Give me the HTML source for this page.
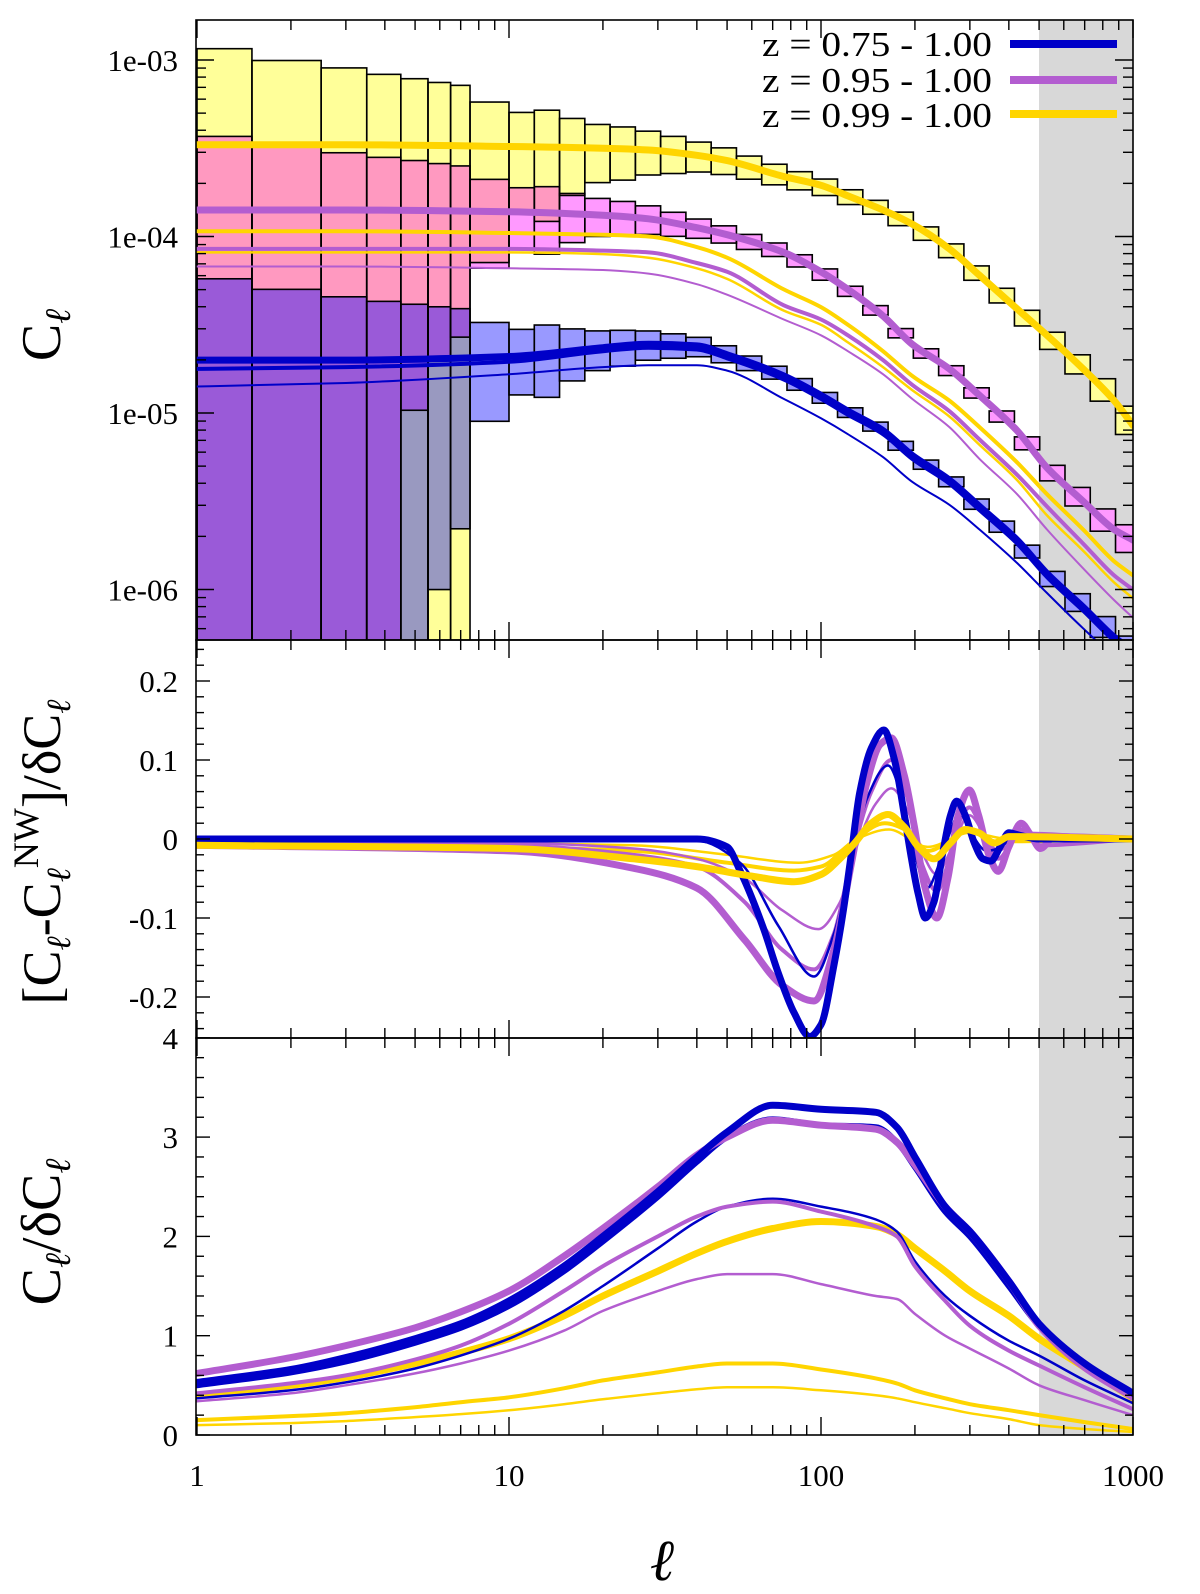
<!DOCTYPE html>
<html><head><meta charset="utf-8"><style>
html,body{margin:0;padding:0;background:#fff;overflow:hidden;}
svg{display:block;font-family:"Liberation Serif",serif;}
</style></head><body>
<svg id="chart" width="1200" height="1594" viewBox="0 0 1200 1594" xmlns="http://www.w3.org/2000/svg">
<defs>
<clipPath id="clipTop"><rect x="196" y="20" width="937" height="620"/></clipPath>
<clipPath id="clipMid"><rect x="196" y="640" width="937" height="398"/></clipPath>
<clipPath id="clipBot"><rect x="196" y="1038" width="937" height="397"/></clipPath>
</defs>
<rect x="1039" y="20" width="94" height="1415" fill="#d8d8d8"/>
<g id="gBoxes" clip-path="url(#clipTop)"></g>
<g id="gTop" clip-path="url(#clipTop)"></g>
<g id="gMid" clip-path="url(#clipMid)"></g>
<g id="gBot" clip-path="url(#clipBot)"></g>
<g id="gAxes"></g>
<g id="legend">
 <text x="762" y="56" font-size="35" textLength="230" lengthAdjust="spacingAndGlyphs">z = 0.75 - 1.00</text>
 <line x1="1010" y1="44" x2="1117" y2="44" stroke="#0000c8" stroke-width="8"/>
 <text x="762" y="92" font-size="35" textLength="230" lengthAdjust="spacingAndGlyphs">z = 0.95 - 1.00</text>
 <line x1="1010" y1="80" x2="1117" y2="80" stroke="#b35dd0" stroke-width="8"/>
 <text x="762" y="127" font-size="35" textLength="230" lengthAdjust="spacingAndGlyphs">z = 0.99 - 1.00</text>
 <line x1="1010" y1="114" x2="1117" y2="114" stroke="#ffd500" stroke-width="8"/>
</g>
<text x="0" y="0" font-size="56" transform="translate(60,335) rotate(-90)" text-anchor="middle">C<tspan font-size="36" font-style="italic" dy="10">ℓ</tspan></text>
<text x="0" y="0" font-size="54" transform="translate(60,852) rotate(-90)" text-anchor="middle">[C<tspan font-size="34" font-style="italic" dy="10">ℓ</tspan><tspan dy="-10">-C</tspan><tspan font-size="34" font-style="italic" dy="10">ℓ</tspan><tspan font-size="36" dy="-32">NW</tspan><tspan dy="22">]/δC</tspan><tspan font-size="34" font-style="italic" dy="10">ℓ</tspan></text>
<text x="0" y="0" font-size="56" transform="translate(60,1232) rotate(-90)" text-anchor="middle">C<tspan font-size="36" font-style="italic" dy="10">ℓ</tspan><tspan dy="-10">/δC</tspan><tspan font-size="36" font-style="italic" dy="10">ℓ</tspan></text>
<text x="662" y="1580" font-size="58" font-style="italic" text-anchor="middle">ℓ</text>
</svg>
<script>
// ---------- data: top panel (log10 C_ell) ----------
const ellTop = [1,3,10,20,28,40,50,76,100,122,158,196,258,322,425,530,692,870,1000];
const yellowThickTop = [-3.48,-3.48,-3.49,-3.50,-3.51,-3.54,-3.57,-3.66,-3.71,-3.77,-3.85,-3.93,-4.07,-4.22,-4.41,-4.56,-4.75,-4.93,-5.07];
const purpleThickTop = [-3.85,-3.85,-3.86,-3.88,-3.90,-3.95,-3.99,-4.09,-4.20,-4.30,-4.45,-4.61,-4.75,-4.90,-5.10,-5.31,-5.50,-5.66,-5.72];
const yellowMedTop = [-3.97,-3.97,-3.98,-3.99,-4.00,-4.06,-4.12,-4.30,-4.40,-4.50,-4.65,-4.79,-4.93,-5.08,-5.28,-5.46,-5.66,-5.84,-5.92];
const purpleMedTop = [-4.07,-4.07,-4.07,-4.08,-4.09,-4.15,-4.20,-4.39,-4.47,-4.56,-4.70,-4.84,-4.99,-5.15,-5.35,-5.53,-5.74,-5.92,-6.00];
const yellowThinTop = [-4.09,-4.09,-4.09,-4.10,-4.12,-4.18,-4.24,-4.42,-4.50,-4.60,-4.74,-4.87,-5.02,-5.18,-5.38,-5.58,-5.78,-5.96,-6.05];
const purpleThinTop = [-4.17,-4.17,-4.18,-4.19,-4.21,-4.27,-4.33,-4.47,-4.56,-4.65,-4.78,-4.92,-5.08,-5.26,-5.46,-5.66,-5.88,-6.06,-6.16];
const blueThickTop = [-4.70,-4.70,-4.68,-4.63,-4.61,-4.62,-4.67,-4.79,-4.90,-4.99,-5.10,-5.24,-5.38,-5.53,-5.72,-5.91,-6.10,-6.27,-6.35];
const blueMedTop = [-4.75,-4.74,-4.71,-4.65,-4.63,-4.64,-4.69,-4.81,-4.92,-5.01,-5.12,-5.26,-5.40,-5.55,-5.74,-5.93,-6.12,-6.29,-6.37];
const blueThinTop = [-4.85,-4.83,-4.78,-4.74,-4.73,-4.73,-4.76,-4.92,-5.03,-5.12,-5.25,-5.39,-5.52,-5.66,-5.85,-6.02,-6.22,-6.38,-6.46];

// ---------- data: bottom panel (C/dC) ----------
const ellBot = [1,2,3,5,7,10,15,20,30,40,50,70,100,150,175,200,250,300,400,500,700,1000];
const blueThickBot = [0.53,0.66,0.78,0.97,1.12,1.35,1.70,2.00,2.45,2.80,3.05,3.32,3.28,3.25,3.10,2.80,2.30,2.05,1.55,1.12,0.72,0.42];
const blueMedBot = [0.50,0.63,0.74,0.93,1.08,1.30,1.65,1.95,2.40,2.75,3.00,3.18,3.12,3.10,2.95,2.70,2.25,2.00,1.50,1.10,0.70,0.40];
const purpleThickBot = [0.62,0.78,0.90,1.08,1.24,1.45,1.80,2.08,2.50,2.82,3.00,3.17,3.12,3.08,2.95,2.72,2.30,2.05,1.55,1.10,0.68,0.38];
const blueThinBot = [0.37,0.45,0.53,0.67,0.80,0.97,1.25,1.50,1.88,2.15,2.30,2.38,2.30,2.17,2.05,1.75,1.40,1.20,0.95,0.80,0.55,0.32];
const purpleMedBot = [0.42,0.52,0.60,0.76,0.90,1.12,1.45,1.70,2.00,2.20,2.30,2.35,2.25,2.10,2.00,1.70,1.35,1.10,0.85,0.70,0.48,0.26];
const purpleThinBot = [0.34,0.42,0.50,0.62,0.72,0.85,1.05,1.25,1.45,1.57,1.62,1.62,1.52,1.40,1.37,1.22,1.00,0.87,0.67,0.50,0.35,0.20];
const yellowThickBot = [0.40,0.50,0.58,0.72,0.83,0.97,1.20,1.40,1.65,1.83,1.95,2.08,2.15,2.10,2.02,1.88,1.65,1.45,1.20,0.97,0.68,0.37];
const yellowMedBot = [0.15,0.19,0.22,0.28,0.33,0.38,0.47,0.55,0.63,0.69,0.72,0.72,0.66,0.57,0.52,0.45,0.37,0.31,0.25,0.20,0.13,0.06];
const yellowThinBot = [0.10,0.12,0.14,0.18,0.21,0.25,0.31,0.36,0.42,0.46,0.48,0.48,0.45,0.40,0.37,0.33,0.27,0.22,0.16,0.10,0.06,0.03];

// ---------- data: middle panel (BAO residual) ----------
const ellBlueThickMid = [1,40,50,55,65,73,82,92,100,110,118,125,133,145,159,172,185,195,205,216,230,245,260,272,290,310,330,350,375,400,430,500,1000];
const blueThickMid = [0,0,-0.01,-0.04,-0.11,-0.17,-0.22,-0.25,-0.235,-0.16,-0.09,-0.02,0.058,0.115,0.138,0.10,0.03,-0.025,-0.07,-0.10,-0.08,-0.02,0.03,0.048,0.03,-0.005,-0.025,-0.028,-0.01,0.008,0.005,0,0];
const ellPurpleThickMid = [1,10,25,40,57,75,95,110,126,140,155,168,185,199,215,235,255,275,299,320,345,370,400,438,470,505,560,1000];
const purpleThickMid = [-0.008,-0.015,-0.037,-0.062,-0.128,-0.185,-0.205,-0.14,-0.025,0.07,0.12,0.128,0.08,0.017,-0.06,-0.10,-0.05,0.03,0.062,0.03,-0.02,-0.041,-0.01,0.02,0.005,-0.012,0.003,0];
const ellBlueThinMid = [1,40,55,73,95,110,125,140,164,185,200,219,240,260,278,300,340,370,420,1000];
const blueThinMid = [0,-0.002,-0.03,-0.11,-0.174,-0.12,-0.03,0.05,0.093,0.04,-0.02,-0.062,-0.03,0.01,0.033,0.01,-0.015,-0.012,0.003,0];
const ellPurpleMedMid = [1,10,25,40,57,75,95,110,126,145,168,190,210,235,260,280,299,330,370,438,505,1000];
const purpleMedMid = [-0.005,-0.008,-0.02,-0.035,-0.08,-0.14,-0.165,-0.12,-0.02,0.06,0.10,0.05,-0.03,-0.066,-0.02,0.025,0.04,0.01,-0.025,0.012,-0.008,0];
const ellPurpleThinMid = [1,10,25,40,57,75,98,115,130,150,168,190,210,235,260,299,340,370,440,1000];
const purpleThinMid = [-0.003,-0.005,-0.012,-0.025,-0.05,-0.09,-0.114,-0.08,-0.01,0.045,0.064,0.035,-0.015,-0.045,-0.015,0.03,0.0,-0.015,0.008,0];
const ellYellowThickMid = [1,10,25,40,60,82,100,115,129,145,164,185,205,230,260,290,320,360,400,1000];
const yellowThickMid = [-0.008,-0.012,-0.025,-0.035,-0.047,-0.054,-0.045,-0.025,-0.004,0.02,0.031,0.015,-0.01,-0.025,-0.005,0.012,0.008,-0.005,0.003,0];
const ellYellowMedMid = [1,25,50,82,100,125,160,190,220,260,300,360,1000];
const yellowMedMid = [-0.004,-0.015,-0.03,-0.04,-0.035,-0.005,0.02,0.01,-0.015,-0.002,0.012,-0.003,0];
const ellYellowThinMid = [1,25,50,85,110,130,165,220,300,400,1000];
const yellowThinMid = [-0.002,-0.008,-0.02,-0.03,-0.02,0,0.012,-0.01,0.008,0,0];

// ---------- scales ----------
const X = l => 197 + 312*Math.log10(l);
const YtL = L => 60 + 176.5*(-3 - L);
const Ym = v => 839 - 790*v;
const Yb = v => 1435 - 99.3*v;
const NS = 'http://www.w3.org/2000/svg';
const COL = {blue:'#0000c8', purple:'#b35dd0', yellow:'#ffd500'};

function mk(tag, attrs, parent){
  const el = document.createElementNS(NS, tag);
  for (const k in attrs) el.setAttribute(k, attrs[k]);
  parent.appendChild(el);
  return el;
}
// monotone cubic Hermite (Fritsch-Carlson) in pixel space, x increasing
function smoothPath(pts){
  const n = pts.length;
  const dx=[], s=[];
  for (let i=0;i<n-1;i++){ dx[i]=pts[i+1][0]-pts[i][0]; s[i]=(pts[i+1][1]-pts[i][1])/dx[i]; }
  const m=[];
  m[0]=s[0]; m[n-1]=s[n-2];
  for (let i=1;i<n-1;i++){
    if (s[i-1]*s[i]<=0) m[i]=0;
    else { const w1=2*dx[i]+dx[i-1], w2=dx[i]+2*dx[i-1]; m[i]=(w1+w2)/(w1/s[i-1]+w2/s[i]); }
  }
  let d='M'+pts[0][0].toFixed(1)+','+pts[0][1].toFixed(1);
  for (let i=0;i<n-1;i++){
    const h=dx[i]/3;
    d+=' C'+(pts[i][0]+h).toFixed(1)+','+(pts[i][1]+m[i]*h).toFixed(1)+' '+(pts[i+1][0]-h).toFixed(1)+','+(pts[i+1][1]-m[i+1]*h).toFixed(1)+' '+pts[i+1][0].toFixed(1)+','+pts[i+1][1].toFixed(1);
  }
  return d;
}
function interp(ells, vals, l){
  const t = Math.log10(l);
  if (l<=ells[0]) return vals[0];
  if (l>=ells[ells.length-1]) return vals[vals.length-1];
  for (let i=0;i<ells.length-1;i++){
    const a=Math.log10(ells[i]), b=Math.log10(ells[i+1]);
    if (t>=a && t<=b) return vals[i]+(vals[i+1]-vals[i])*(t-a)/(b-a);
  }
  return vals[vals.length-1];
}
function curve(g, ells, vals, yf, color, w, name){
  const pts = ells.map((l,i)=>[X(l), yf(vals[i])]);
  const p = mk('path', {d:smoothPath(pts), fill:'none', stroke:color, 'stroke-width':w, 'stroke-linejoin':'round', 'stroke-linecap':'round'}, g);
  
  
}

// ---------- boxes ----------
const gB = document.getElementById('gBoxes');
const edges = [1,1.5,2.5,3.5,4.5,5.5,6.5,7.5,10];
for (let k=1;k<=25;k++) edges.push(10*Math.pow(10,0.081*k));
const boxSets = [
  {key:'Y', top:yellowThickTop, snr:yellowThickBot, name:'yellow'},
  {key:'M', top:purpleThickTop, snr:purpleThickBot, name:'magenta'},
  {key:'B', top:blueThickTop, snr:blueThickBot, name:'blue'}
];
const fillFor = s => {
  const y=s.includes('Y'), m=s.includes('M'), b=s.includes('B');
  if (b && m) return '#9a5ad8';
  if (b && y) return '#9999c0';
  if (b) return '#9999ff';
  if (y && m) return '#ff99c0';
  if (m) return '#ff99ff';
  if (y) return '#ffff99';
  return null;
};
const outlines = [];
for (let i=0;i<edges.length-1;i++){
  const lo=edges[i], hi=edges[i+1], lc=Math.sqrt(lo*hi);
  const ivs = [];
  boxSets.forEach(s=>{
    const C = Math.pow(10, interp(ellTop, s.top, lc));
    let ss=0;
    for (let n=Math.ceil(lo); n<hi; n++){ const r=interp(ellBot, s.snr, Math.min(n,1000)); ss+=r*r; }
    const S = Math.sqrt(Math.max(ss, 1e-6));
    const up = C*(1+1/S), dn = C*(1-1/S);
    const y0 = Math.max(YtL(Math.log10(up)), 15);
    const y1 = dn>0 ? Math.min(YtL(Math.log10(dn)), 645) : 645;
    ivs.push({key:s.key, y0, y1, name:s.name});
  });
  const bnd = [...new Set(ivs.flatMap(v=>[v.y0,v.y1]))].sort((a,b)=>a-b);
  for (let j=0;j<bnd.length-1;j++){
    const a=bnd[j], b=bnd[j+1], mid=(a+b)/2;
    const keys = ivs.filter(v=>mid>=v.y0 && mid<=v.y1).map(v=>v.key).join('');
    const f = fillFor(keys);
    if (!f) continue;
    const r = mk('rect', {x:X(lo), y:a, width:X(hi)-X(lo), height:b-a, fill:f}, gB);
    
    
  }
  ivs.forEach(v=>outlines.push({x:X(lo), w:X(hi)-X(lo), y0:v.y0, y1:v.y1, name:v.name}));
}
outlines.forEach(o=>{
  const r = mk('rect', {x:o.x, y:o.y0, width:o.w, height:o.y1-o.y0, fill:'none', stroke:'#000', 'stroke-width':1.6}, gB);
  
  
});

// ---------- curves ----------
const gT = document.getElementById('gTop');
curve(gT, ellTop, purpleThinTop, YtL, COL.purple, 2, 'top-purple-thin');
curve(gT, ellTop, yellowThinTop, YtL, COL.yellow, 2.5, 'top-yellow-thin');
curve(gT, ellTop, purpleMedTop, YtL, COL.purple, 4, 'top-purple-medium');
curve(gT, ellTop, yellowMedTop, YtL, COL.yellow, 4, 'top-yellow-medium');
curve(gT, ellTop, blueThinTop, YtL, COL.blue, 2, 'top-blue-thin');
curve(gT, ellTop, blueMedTop, YtL, COL.blue, 4, 'top-blue-medium');
curve(gT, ellTop, purpleThickTop, YtL, COL.purple, 7, 'top-purple-thick');
curve(gT, ellTop, blueThickTop, YtL, COL.blue, 7, 'top-blue-thick');
curve(gT, ellTop, yellowThickTop, YtL, COL.yellow, 7, 'top-yellow-thick');

const gM = document.getElementById('gMid');
curve(gM, ellYellowThinMid, yellowThinMid, Ym, COL.yellow, 2.5, 'mid-yellow-thin');
curve(gM, ellYellowMedMid, yellowMedMid, Ym, COL.yellow, 4, 'mid-yellow-medium');
curve(gM, ellPurpleThinMid, purpleThinMid, Ym, COL.purple, 2.5, 'mid-purple-thin');
curve(gM, ellPurpleMedMid, purpleMedMid, Ym, COL.purple, 4, 'mid-purple-medium');
curve(gM, ellBlueThinMid, blueThinMid, Ym, COL.blue, 2.5, 'mid-blue-thin');
curve(gM, ellPurpleThickMid, purpleThickMid, Ym, COL.purple, 7, 'mid-purple-thick');
curve(gM, ellBlueThickMid, blueThickMid, Ym, COL.blue, 7, 'mid-blue-thick');
curve(gM, ellYellowThickMid, yellowThickMid, Ym, COL.yellow, 7, 'mid-yellow-thick');

const gBt = document.getElementById('gBot');
curve(gBt, ellBot, yellowThinBot, Yb, COL.yellow, 2.5, 'bot-yellow-thin');
curve(gBt, ellBot, yellowMedBot, Yb, COL.yellow, 4, 'bot-yellow-medium');
curve(gBt, ellBot, purpleThinBot, Yb, COL.purple, 2.5, 'bot-purple-thin');
curve(gBt, ellBot, yellowThickBot, Yb, COL.yellow, 7, 'bot-yellow-thick');
curve(gBt, ellBot, blueThinBot, Yb, COL.blue, 2.5, 'bot-blue-thin');
curve(gBt, ellBot, purpleMedBot, Yb, COL.purple, 4, 'bot-purple-medium');
curve(gBt, ellBot, blueMedBot, Yb, COL.blue, 6, 'bot-blue-medium');
curve(gBt, ellBot, purpleThickBot, Yb, COL.purple, 7, 'bot-purple-thick');
curve(gBt, ellBot, blueThickBot, Yb, COL.blue, 7, 'bot-blue-thick');

// ---------- axes ----------
const gA = document.getElementById('gAxes');
const L=196, R=1133;
const panels = [[20,640],[640,1038],[1038,1435]];
function tl(x1,y1,x2,y2,w,name){
  const l = mk('line', {x1,y1,x2,y2,stroke:'#000','stroke-width':w}, gA);
  
  
}
panels.forEach(([t,b])=>{
  const r = mk('rect', {x:L, y:t, width:R-L, height:b-t, fill:'none', stroke:'#000', 'stroke-width':1.6}, gA);
  
  
  for (let d=0; d<3; d++){
    for (let m=1; m<=9; m++){
      const l = m*Math.pow(10,d), x=X(l);
      if (x>R+0.5) continue;
      const len = m===1 ? 18 : 10;
      tl(x,t,x,t+len,1.4,'x-tick');
      tl(x,b,x,b-len,1.4,'x-tick');
    }
  }
  tl(X(1000),t,X(1000),t+18,1.4,'x-tick');
  tl(X(1000),b,X(1000),b-18,1.4,'x-tick');
});
for (let e=-7; e<=-3; e++){
  for (let m=1;m<=9;m++){
    const y = YtL(Math.log10(m)+e);
    if (y<20 || y>640) continue;
    const len = m===1?18:10;
    tl(L,y,L+len,y,1.4,'y-tick-top'); tl(R,y,R-len,y,1.4,'y-tick-top');
  }
}
for (let k=-12;k<=12;k++){
  const v=k*0.02, y=Ym(v);
  if (y<641 || y>1037) continue;
  const len = (k%5===0)?14:8;
  tl(L,y,L+len,y,1.4,'y-tick-mid'); tl(R,y,R-len,y,1.4,'y-tick-mid');
}
for (let k=0;k<=20;k++){
  const v=k*0.2, y=Yb(v);
  const len = (k%5===0)?14:8;
  tl(L,y,L+len,y,1.4,'y-tick-bot'); tl(R,y,R-len,y,1.4,'y-tick-bot');
}
const topTickLabels = ['1e-03','1e-04','1e-05','1e-06'];
const topTickExp = [-3,-4,-5,-6];
const midTickLabels = ['0.2','0.1','0','-0.1','-0.2'];
const midTickVals = [0.2,0.1,0,-0.1,-0.2];
const botTickLabels = ['4','3','2','1','0'];
const botTickVals = [4,3,2,1,0];
const xTickLabels = ['1','10','100','1000'];
const xTickVals = [1,10,100,1000];
function lab(x,y,s,anchor,name){
  const t = mk('text', {x, y, 'font-size':31, 'text-anchor':anchor}, gA);
  t.textContent = s;
  
  
}
topTickLabels.forEach((s,i)=>lab(178, YtL(topTickExp[i])+11, s, 'end', 'y-tick-label-top'));
midTickLabels.forEach((s,i)=>lab(178, Ym(midTickVals[i])+11, s, 'end', 'y-tick-label-mid'));
botTickLabels.forEach((s,i)=>lab(178, Yb(botTickVals[i])+11, s, 'end', 'y-tick-label-bot'));
xTickLabels.forEach((s,i)=>lab(X(xTickVals[i]), 1486, s, 'middle', 'x-tick-label'));
</script>
</body></html>
